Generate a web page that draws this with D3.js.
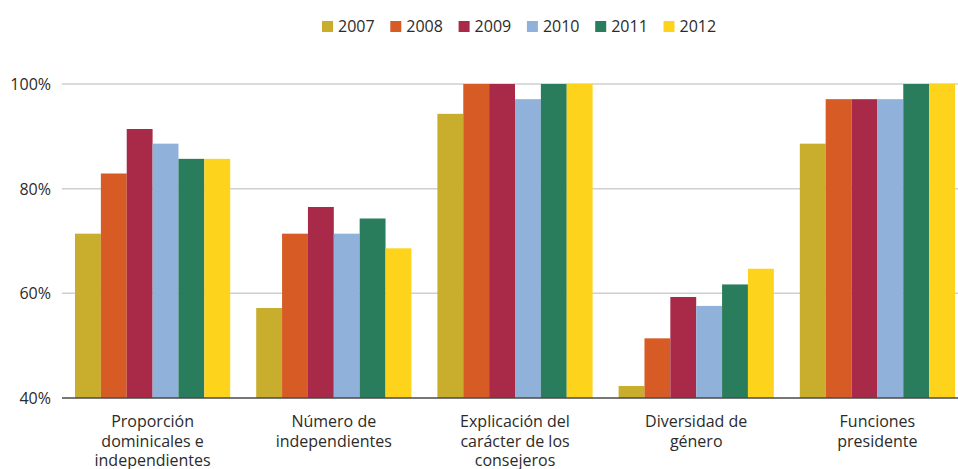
<!DOCTYPE html>
<html>
<head>
<meta charset="utf-8">
<script src="https://cdn.jsdelivr.net/npm/d3@7"></script>
<style>
  body { margin: 0; background: #fff; }
  svg text { font-family: "Open Sans", "Noto Sans", sans-serif; fill: #2b2b2b; }
</style>
</head>
<body>
<svg id="chart" width="958" height="469"></svg>
<script>
// data
const categories = [
  ["Proporción", "dominicales e", "independientes"],
  ["Número de", "independientes"],
  ["Explicación del", "carácter de los", "consejeros"],
  ["Diversidad de", "género"],
  ["Funciones", "presidente"]
]
const years = ["2007", "2008", "2009", "2010", "2011", "2012"]
const v2007 = [71.4, 57.2, 94.3, 42.3, 88.6]
const v2008 = [82.9, 71.4, 100, 51.4, 97.1]
const v2009 = [91.4, 76.5, 100, 59.3, 97.1]
const v2010 = [88.6, 71.4, 97.1, 57.6, 97.1]
const v2011 = [85.7, 74.3, 100, 61.7, 100]
const v2012 = [85.7, 68.6, 100, 64.7, 100]
const yTicks = [40, 60, 80, 100]
const colors = ["#C9AE2E", "#D65B25", "#A82A48", "#8FB1DA", "#2A7D5C", "#FDD31C"]

const series = [v2007, v2008, v2009, v2010, v2011, v2012]

const svg = d3.select("#chart")

const x0 = d3.scaleBand()
  .domain(d3.range(categories.length))
  .range([62, 968])
  .paddingInner(0.1435)
  .paddingOuter(0.0717)

const x1 = d3.scaleBand()
  .domain(years)
  .range([0, x0.bandwidth()])

const y = d3.scaleLinear().domain([40, 100]).range([398, 84])

// gridlines
svg.append("g")
  .selectAll("line")
  .data(yTicks.filter(d => d > 40))
  .join("line")
  .attr("x1", 62)
  .attr("x2", 958)
  .attr("y1", d => y(d))
  .attr("y2", d => y(d))
  .attr("stroke", "#cfcfcf")
  .attr("stroke-width", 1.5)

// y labels
svg.append("g")
  .selectAll("text")
  .data(yTicks)
  .join("text")
  .attr("x", 51)
  .attr("y", d => y(d) + 6)
  .attr("text-anchor", "end")
  .attr("font-size", 16)
  .text(d => d + "%")

// bars
const groups = svg.append("g")
  .selectAll("g")
  .data(categories.map((c, i) => i))
  .join("g")
  .attr("transform", i => "translate(" + x0(i) + ",0)")

groups.selectAll("rect")
  .data(i => years.map((yr, j) => ({ year: yr, value: series[j][i], color: colors[j] })))
  .join("rect")
  .attr("x", d => x1(d.year))
  .attr("width", x1.bandwidth())
  .attr("y", d => y(d.value))
  .attr("height", d => y(40) - y(d.value))
  .attr("fill", d => d.color)

// baseline
svg.append("line")
  .attr("x1", 62)
  .attr("x2", 958)
  .attr("y1", y(40))
  .attr("y2", y(40))
  .attr("stroke", "#4a4a4a")
  .attr("stroke-width", 1.5)

// category labels
const labels = svg.append("g")
  .selectAll("text")
  .data(categories)
  .join("text")
  .attr("text-anchor", "middle")
  .attr("font-size", 16)
  .attr("x", (d, i) => x0(i) + x0.bandwidth() / 2)
  .attr("y", 427)

labels.selectAll("tspan")
  .data(d => d)
  .join("tspan")
  .attr("x", function() { return this.parentNode.getAttribute("x") })
  .attr("dy", (d, i) => i === 0 ? 0 : 19.5)
  .text(d => d)

// legend
const legend = svg.append("g")
  .selectAll("g")
  .data(years)
  .join("g")
  .attr("transform", (d, i) => "translate(" + (322 + i * 68.3) + ",21)")

legend.append("rect")
  .attr("width", 11)
  .attr("height", 11)
  .attr("fill", (d, i) => colors[i])

legend.append("text")
  .attr("x", 16)
  .attr("y", 11)
  .attr("font-size", 16)
  .text(d => d)
</script>
</body>
</html>
